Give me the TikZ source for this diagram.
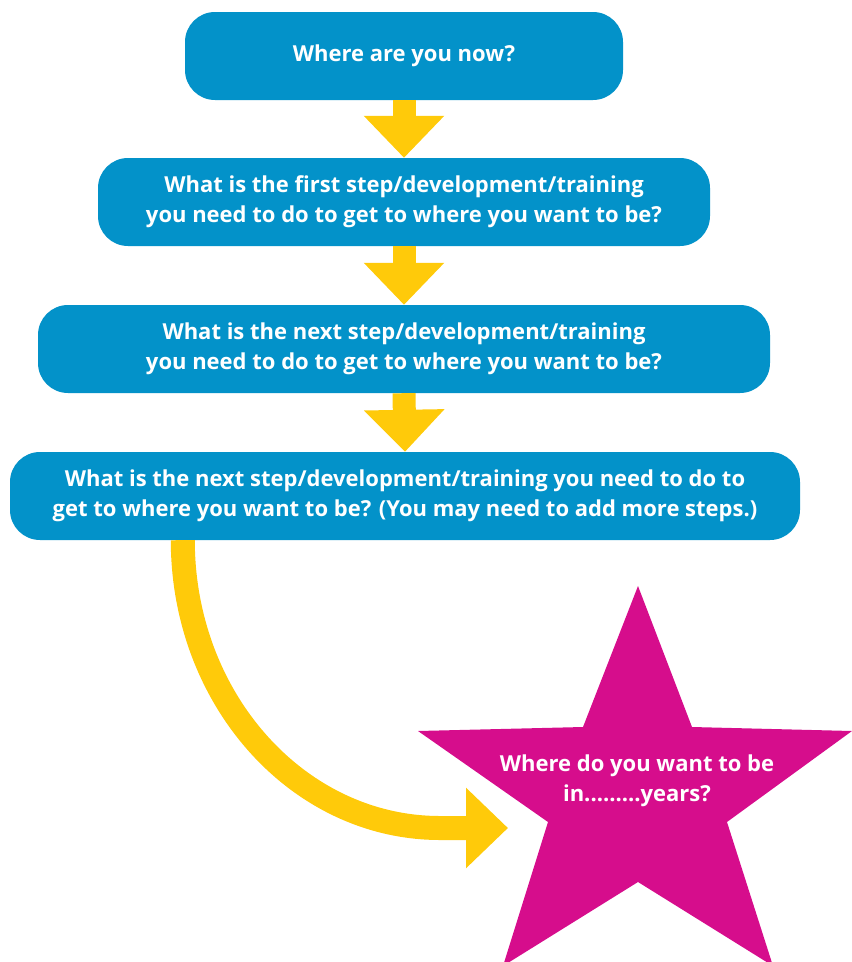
\documentclass[tikz,border=0pt]{standalone}
\usepackage{fontspec}
\setmainfont{Open Sans}
\usetikzlibrary{arrows.meta,calc}

\definecolor{stepblue}{HTML}{0392C9}
\definecolor{arrowyellow}{HTML}{FFCA0A}
\definecolor{starpink}{HTML}{D60D8C}

\begin{document}
\begin{tikzpicture}[x=1pt, y=-1pt,
	stepbox/.style={fill=stepblue, rounded corners=30pt, text=white, align=center,
		font=\bfseries\fontsize{22}{30}\selectfont, minimum height=88pt, inner sep=0pt},
	blockarrow/.style={arrowyellow, line width=23pt, -{Triangle[width=78pt, length=42pt]}}]
	\useasboundingbox (0, 0) rectangle (852, 962);

	% the steps, top to bottom
	\node [stepbox, minimum width=438pt] (now) at (404, 56) {Where are you now?};
	\node [stepbox, minimum width=612pt] (first) at (404, 202)
		{What is the first step/development/training\\ you need to do to get to where you want to be?};
	\node [stepbox, minimum width=732pt] (next) at (404, 349)
		{What is the next step/development/training\\ you need to do to get to where you want to be?};
	\node [stepbox, minimum width=790pt] (last) at (405, 496)
		{What is the next step/development/training you need to do to\\ get to where you want to be? (You may need to add more steps.)};

	\draw [blockarrow] (now.south) -- (first.north);
	\draw [blockarrow] (first.south) -- (next.north);
	\draw [blockarrow] (next.south) -- (last.north);

	% the star
	\begin{scope}
		\clip (0, 0) rectangle (852, 962);
		\fill [starpink] (638, 586) -- (692, 727) -- (852, 731) -- (727, 822) -- (773, 966)
			-- (638, 882) -- (503, 966) -- (548, 822) -- (418, 731) -- (583, 727) -- cycle;
	\end{scope}
	\node [text=white, align=center, font=\bfseries\fontsize{22}{30}\selectfont] (goal) at (637, 781)
		{Where do you want to be\\ in.........years?};

	% bent arrow down to the star
	\coordinate (leave) at ($(last.south west) + (173, 0)$);
	\coordinate (arrive) at (508, 828);
	\draw [blockarrow, line width=24pt] (leave) .. controls +(0, 159) and (298, 828) .. (440, 828) -- (arrive);
\end{tikzpicture}
\end{document}
